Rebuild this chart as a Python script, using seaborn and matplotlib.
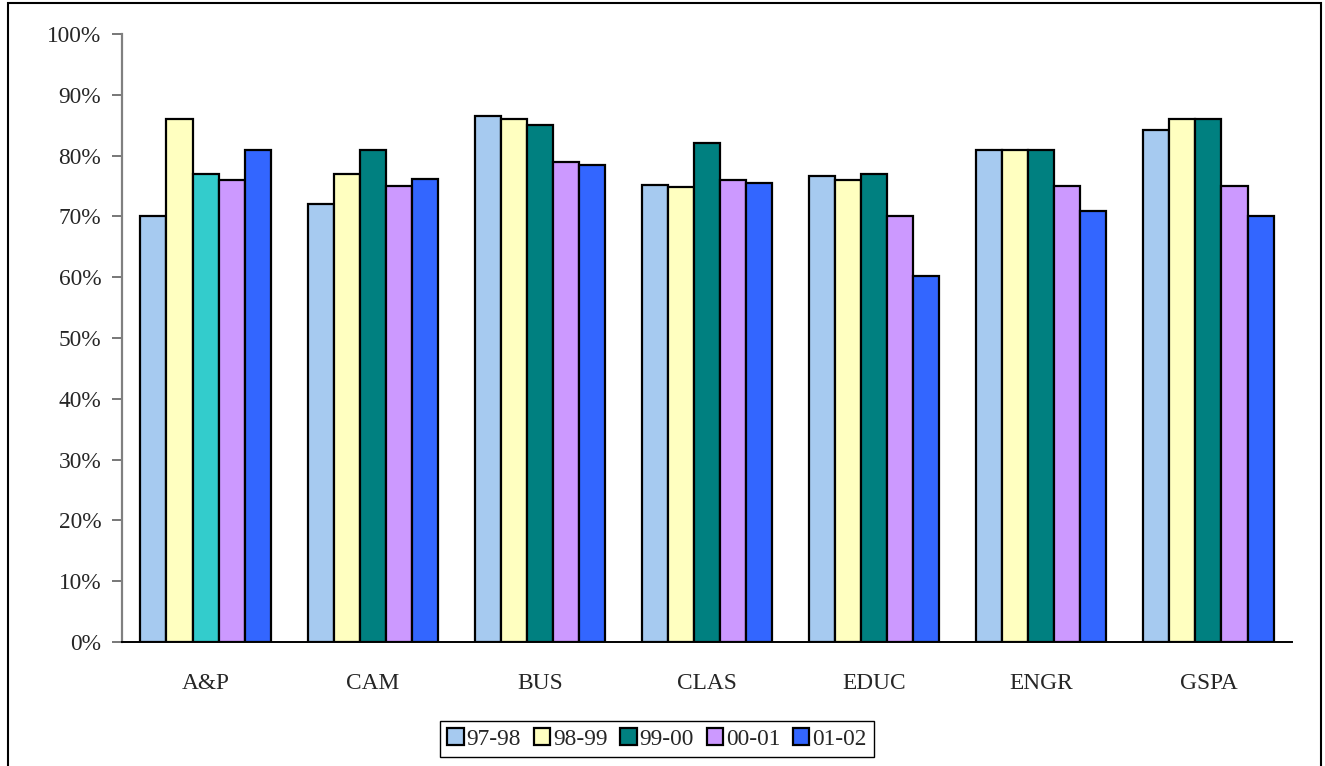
import numpy as np
import pandas as pd
import matplotlib.pyplot as plt
import seaborn as sns
from matplotlib.patches import Rectangle

# ------ Dados ------ #
colleges = ['A&P', 'CAM', 'BUS', 'CLAS', 'EDUC', 'ENGR', 'GSPA']
years = ['97-98', '98-99', '99-00', '00-01', '01-02']
v_97_98 = [70.1, 72.1, 86.5, 75.1, 76.6, 81.0, 84.2]
v_98_99 = [86.0, 77.0, 86.0, 74.9, 76.0, 81.0, 86.0]
v_99_00 = [77.0, 81.0, 85.0, 82.0, 77.0, 81.0, 86.0]
v_00_01 = [76.0, 75.0, 79.0, 76.0, 70.0, 75.0, 75.0]
v_01_02 = [81.0, 76.2, 78.5, 75.5, 60.2, 70.9, 70.1]
colors = ['#A6CAF0', '#FFFFC0', '#008080', '#CC99FF', '#3366FF']
highlight_color = '#33CCCC'  # barra A&P 99-00 destacada

series = [v_97_98, v_98_99, v_99_00, v_00_01, v_01_02]
df = pd.DataFrame({
    'college': colleges * len(years),
    'year': np.repeat(years, len(colleges)),
    'value': np.concatenate(series),
})

# ------ Estilo ------ #
sns.set_style('white')
plt.rcParams['font.family'] = ['Liberation Serif', 'DejaVu Serif']
FS = 16.8

fig = plt.figure(figsize=(13.25, 7.66), dpi=100)
ax = fig.add_axes([122 / 1325, 124 / 766, 1170 / 1325, 608 / 766])

sns.barplot(data=df, x='college', y='value', hue='year', order=colleges,
            hue_order=years, palette=colors, width=0.78, saturation=1,
            edgecolor='black', linewidth=1.6, ax=ax)

# destaca a barra A&P 99-00
ax.containers[2].patches[0].set_facecolor(highlight_color)

ax.set_xlim(-0.5, len(colleges) - 0.5)
ax.set_ylim(0, 100)
yt = np.arange(0, 101, 10)
ax.set_yticks(yt)
ax.set_yticklabels([f'{v}%' for v in yt], fontsize=FS)
ax.set_xticks(range(len(colleges)))
ax.set_xticklabels(colleges, fontsize=FS)
ax.set_xticks(np.arange(-0.5, len(colleges)), minor=True)
ax.tick_params(axis='x', which='major', length=0, pad=22)
ax.tick_params(axis='x', which='minor', length=7, width=1.2, color='#606060', direction='out')
ax.tick_params(axis='y', length=7, width=1.2, color='#606060', direction='out', pad=8, left=True)
ax.set_xlabel('')
ax.set_ylabel('')
for s in ['top', 'right']:
    ax.spines[s].set_visible(False)
ax.spines['left'].set_color('#808080')
ax.spines['left'].set_linewidth(1.6)
ax.spines['bottom'].set_color('black')
ax.spines['bottom'].set_linewidth(1.4)
ax.grid(False)

# legenda
handles, labels = ax.get_legend_handles_labels()
ax.legend_.remove()
fig.legend(handles, labels, loc='center', bbox_to_anchor=(657 / 1325, 1 - 739 / 766),
           ncol=5, fontsize=FS, frameon=True, fancybox=False, framealpha=1,
           edgecolor='black', handlelength=0.7, handleheight=0.7, handletextpad=0.12,
           columnspacing=0.55, borderpad=0.3, borderaxespad=0)
fig.legends[0].get_frame().set_linewidth(1.0)

# borda da figura
fig.add_artist(Rectangle((8 / 1325, -0.05), 1313 / 1325, 1.05 - 3 / 766,
                         transform=fig.transFigure, fill=False,
                         edgecolor='black', linewidth=1.5))

fig.savefig('out.png', dpi=100)
